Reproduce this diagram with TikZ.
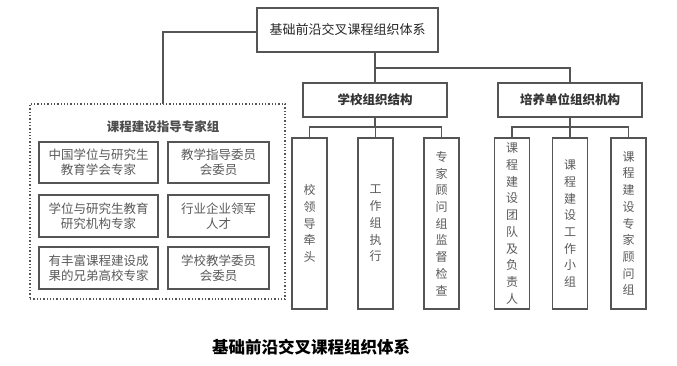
\documentclass[tikz,border=0pt]{standalone}
\usepackage{fontspec}
\newfontfamily\cjk{Noto Sans CJK SC}
\definecolor{lc}{HTML}{555555}
\definecolor{tg}{HTML}{5A5A5A}
\tikzset{
  every node/.style={inner sep=0pt, outer sep=0pt},
  bx/.style={draw=lc, line width=1.4pt, fill=white},
  conn/.style={draw=lc, line width=1.4pt},
  vtxt/.style={font=\cjk\fontsize{12}{16.7}\selectfont, text=tg, align=center},
  htxt/.style={font=\cjk\fontsize{12.5}{15}\selectfont, text=tg, align=center},
}
\begin{document}
\begin{tikzpicture}[x=1pt,y=-1pt]
\useasboundingbox (0,0) rectangle (677,366);
% top box
\node[bx, minimum width=181pt, minimum height=44pt] (top) at (347.5,30) {};
\node[font=\cjk\fontsize{13}{15}\selectfont, text=black!85] (toptxt) at (top.center) {基础前沿交叉课程组织体系};
% level 2
\node[bx, minimum width=144pt, minimum height=34pt] (s) at (375,100) {};
\node[font=\cjk\fontsize{12.5}{15}\selectfont\bfseries, text=black!80] (stxt) at (s.center) {学校组织结构};
\node[bx, minimum width=144pt, minimum height=34pt] (p) at (570,100) {};
\node[font=\cjk\fontsize{12.5}{15}\selectfont\bfseries, text=black!80] (ptxt) at (p.center) {培养单位组织机构};
% dotted box
\node[draw=lc, line width=1.3pt, dotted, minimum width=255pt, minimum height=195pt] (g) at (157.5,201.5) {};
\node[font=\cjk\fontsize{12.5}{15}\selectfont\bfseries, text=black!70] (gt) at (163,127) {课程建设指导专家组};
% inner boxes
\node[bx, minimum width=119pt, minimum height=41pt, htxt] (i1) at (98.5,162.5) {中国学位与研究生\\教育学会专家};
\node[bx, minimum width=101pt, minimum height=41pt, htxt] (i2) at (218.5,162.5) {教学指导委员\\会委员};
\node[bx, minimum width=119pt, minimum height=42pt, htxt] (i3) at (98.5,216) {学位与研究生教育\\研究机构专家};
\node[bx, minimum width=101pt, minimum height=42pt, htxt] (i4) at (218.5,216) {行业企业领军\\人才};
\node[bx, minimum width=119pt, minimum height=42pt, htxt] (i5) at (98.5,268) {有丰富课程建设成\\果的兄弟高校专家};
\node[bx, minimum width=101pt, minimum height=42pt, htxt] (i6) at (218.5,268) {学校教学委员\\会委员};
% tall boxes
\foreach \n/\xx in {a/309.5, b/375.5, c/441.5, d/512, e/570, f/628.5}{
  \node[bx, minimum width=35pt, minimum height=171pt] (\n) at (\xx,223.5) {};
}
\node[vtxt] (ta) at (a.center) {校\\领\\导\\牵\\头};
\node[vtxt] (tb) at (b.center) {工\\作\\组\\执\\行};
\node[vtxt] (tc) at (c.center) {专\\家\\顾\\问\\组\\监\\督\\检\\查};
\node[vtxt] (td) at (d.center) {课\\程\\建\\设\\团\\队\\及\\负\\责\\人};
\node[vtxt] (te) at (e.center) {课\\程\\建\\设\\工\\作\\小\\组};
\node[vtxt] (tf) at (f.center) {课\\程\\建\\设\\专\\家\\顾\\问\\组};
% connectors
\coordinate (tl) at (163,32);
\draw[conn] (top.west |- tl) -| (g.north -| tl);
\coordinate (h1) at (0,68);
\draw[conn] (top.south -| s.north) -- (s.north |- h1) -| (p.north);
\draw[conn] (s.north |- h1) -- (s.north);
\coordinate (h2) at (0,127);
\draw[conn] (s.south) -- (s.south |- h2);
\draw[conn] (a.north) -- (a.north |- h2) -- (c.north |- h2) -- (c.north);
\draw[conn] (b.north) -- (b.north |- h2);
\draw[conn] (p.south) -- (p.south |- h2);
\draw[conn] (d.north) -- (d.north |- h2) -- (f.north |- h2) -- (f.north);
\draw[conn] (e.north) -- (e.north |- h2);
% caption
\node[font=\cjk\fontsize{16.5}{18}\selectfont\bfseries, text=black] (cap) at (311,347) {基础前沿交叉课程组织体系};
\end{tikzpicture}
\end{document}
